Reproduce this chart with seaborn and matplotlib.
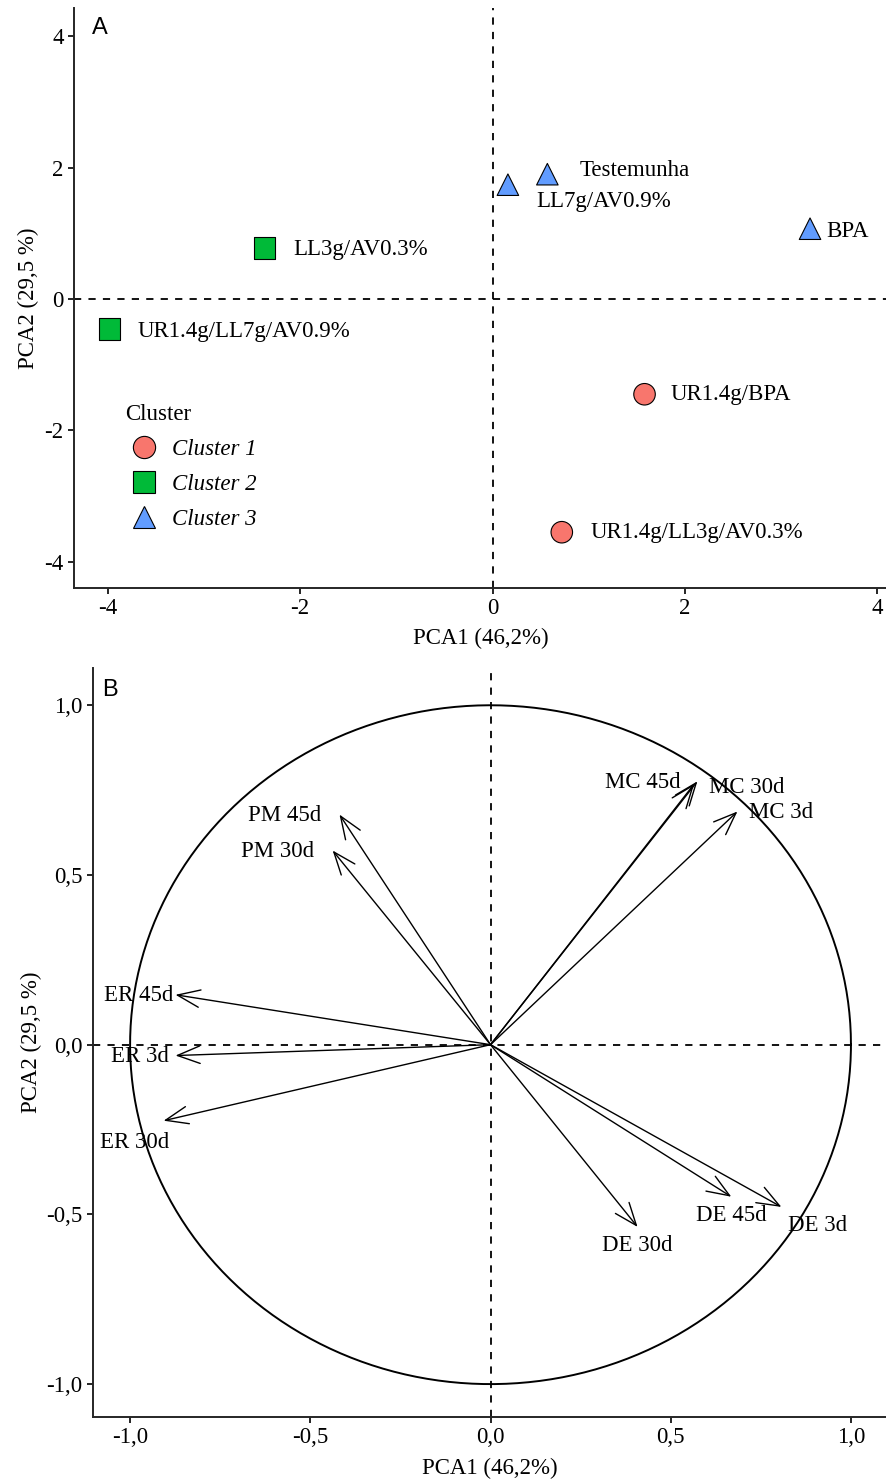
import numpy as np
import pandas as pd
import matplotlib
matplotlib.use("Agg")
import matplotlib.pyplot as plt
import seaborn as sns

# panel A: PCA scores of the treatments
treatments = ["Testemunha", "LL7g/AV0.9%", "BPA", "LL3g/AV0.3%",
              "UR1.4g/LL7g/AV0.9%", "UR1.4g/BPA", "UR1.4g/LL3g/AV0.3%"]
pca1 = [0.57, 0.16, 3.30, -2.37, -3.98, 1.58, 0.72]
pca2 = [1.90, 1.74, 1.07, 0.78, -0.46, -1.45, -3.55]
clusters = ["Cluster 3", "Cluster 3", "Cluster 3", "Cluster 2",
            "Cluster 2", "Cluster 1", "Cluster 1"]
label_x = [0.91, 0.46, 3.47, -2.07, -3.69, 1.85, 1.02]
label_y = [1.95, 1.48, 1.02, 0.75, -0.49, -1.46, -3.56]

# panel B: variable loadings
variables = ["PM 45d", "PM 30d", "ER 45d", "ER 3d", "ER 30d", "MC 45d",
             "MC 30d", "MC 3d", "DE 30d", "DE 45d", "DE 3d"]
load1 = [-0.419, -0.438, -0.874, -0.874, -0.907, 0.574, 0.565, 0.685, 0.408, 0.668, 0.807]
load2 = [0.678, 0.572, 0.147, -0.032, -0.224, 0.776, 0.768, 0.687, -0.537, -0.448, -0.478]
var_lx = [-0.571, -0.591, -0.976, -0.974, -0.988, 0.422, 0.710, 0.807, 0.408, 0.668, 0.907]
var_ly = [0.675, 0.569, 0.145, -0.035, -0.289, 0.773, 0.758, 0.684, -0.593, -0.504, -0.534]

sns.set_theme(style="ticks")
plt.rcParams["font.family"] = ["Liberation Serif", "DejaVu Serif"]
plt.rcParams["axes.unicode_minus"] = False
plt.rcParams["text.color"] = "black"
plt.rcParams["axes.labelcolor"] = "black"
plt.rcParams["axes.linewidth"] = 1.4
plt.rcParams["xtick.major.width"] = 1.2
plt.rcParams["ytick.major.width"] = 1.2
plt.rcParams["xtick.major.size"] = 4
plt.rcParams["ytick.major.size"] = 4

FS = 16.5

fig = plt.figure(figsize=(8.87, 14.79), dpi=100)
ax1 = fig.add_axes([0.0834, 0.6024, 0.9166, 0.3922])
ax2 = fig.add_axes([0.1048, 0.0419, 0.8952, 0.5065])

df = pd.DataFrame({"PCA1": pca1, "PCA2": pca2, "Cluster": clusters, "name": treatments})
palette = {"Cluster 1": "#F8766D", "Cluster 2": "#00BA38", "Cluster 3": "#619CFF"}
markers = {"Cluster 1": "o", "Cluster 2": "s", "Cluster 3": "^"}

ax1.axhline(0, color="black", lw=1.3, ls=(0, (4, 4)), zorder=1)
ax1.axvline(0, color="black", lw=1.3, ls=(0, (4, 4)), zorder=1)
sns.scatterplot(data=df, x="PCA1", y="PCA2", hue="Cluster", style="Cluster",
                hue_order=["Cluster 1", "Cluster 2", "Cluster 3"],
                style_order=["Cluster 1", "Cluster 2", "Cluster 3"],
                palette=palette, markers=markers, s=240, edgecolor="black",
                linewidth=0.8, ax=ax1, zorder=3)
for name, lx, ly in zip(treatments, label_x, label_y):
    ax1.text(lx, ly, name, ha="left", va="center", fontsize=FS)

handles, labels = ax1.get_legend_handles_labels()
for h in handles:
    h.set_markersize(16)
    h.set_markeredgecolor("black")
leg = ax1.legend(handles, labels, title="Cluster", loc="upper left",
                 bbox_to_anchor=(0.038, 0.352), frameon=False,
                 prop={"style": "italic", "size": FS}, title_fontsize=FS,
                 handletextpad=0.45, labelspacing=0.6, handlelength=1.6)
leg._legend_box.align = "left"

ax1.set_xlim(-4.35, 4.1)
ax1.set_ylim(-4.4, 4.43)
ax1.set_xticks([-4, -2, 0, 2, 4])
ax1.set_yticks([-4, -2, 0, 2, 4])
ax1.set_xlabel("PCA1 (46,2%)", fontsize=FS, labelpad=6)
ax1.set_ylabel("PCA2 (29,5 %)", fontsize=FS)
ax1.tick_params(labelsize=FS, colors="black")
sns.despine(ax=ax1)
ax1.text(0.022, 0.985, "A", transform=ax1.transAxes, fontsize=17,
         family="Liberation Sans", va="top", ha="left")

# panel B: correlation circle
theta = np.linspace(0, 2 * np.pi, 400)
ax2.plot(np.cos(theta), np.sin(theta), color="black", lw=1.4)
ax2.axhline(0, color="black", lw=1.3, ls=(0, (4, 4)), zorder=1)
ax2.axvline(0, color="black", lw=1.3, ls=(0, (4, 4)), zorder=1)
for vx, vy in zip(load1, load2):
    ax2.annotate("", xy=(vx, vy), xytext=(0, 0),
                 arrowprops=dict(arrowstyle="->,head_length=0.9,head_width=0.35",
                                 color="black", lw=1.0, shrinkA=0, shrinkB=0,
                                 mutation_scale=18))
for name, lx, ly in zip(variables, var_lx, var_ly):
    ax2.text(lx, ly, name, ha="center", va="center", fontsize=FS)

ax2.set_xlim(-1.103, 1.10)
ax2.set_ylim(-1.097, 1.11)
ticks = [-1.0, -0.5, 0.0, 0.5, 1.0]
ax2.set_xticks(ticks)
ax2.set_yticks(ticks)
ax2.set_xticklabels([f"{t:.1f}".replace(".", ",") for t in ticks])
ax2.set_yticklabels([f"{t:.1f}".replace(".", ",") for t in ticks])
ax2.set_xlabel("PCA1 (46,2%)", fontsize=FS, labelpad=7)
ax2.set_ylabel("PCA2 (29,5 %)", fontsize=FS, labelpad=3)
ax2.tick_params(labelsize=FS, colors="black")
sns.despine(ax=ax2)
ax2.text(0.012, 0.985, "B", transform=ax2.transAxes, fontsize=17,
         family="Liberation Sans", va="top", ha="left")

fig.savefig("out.png", dpi=100)
